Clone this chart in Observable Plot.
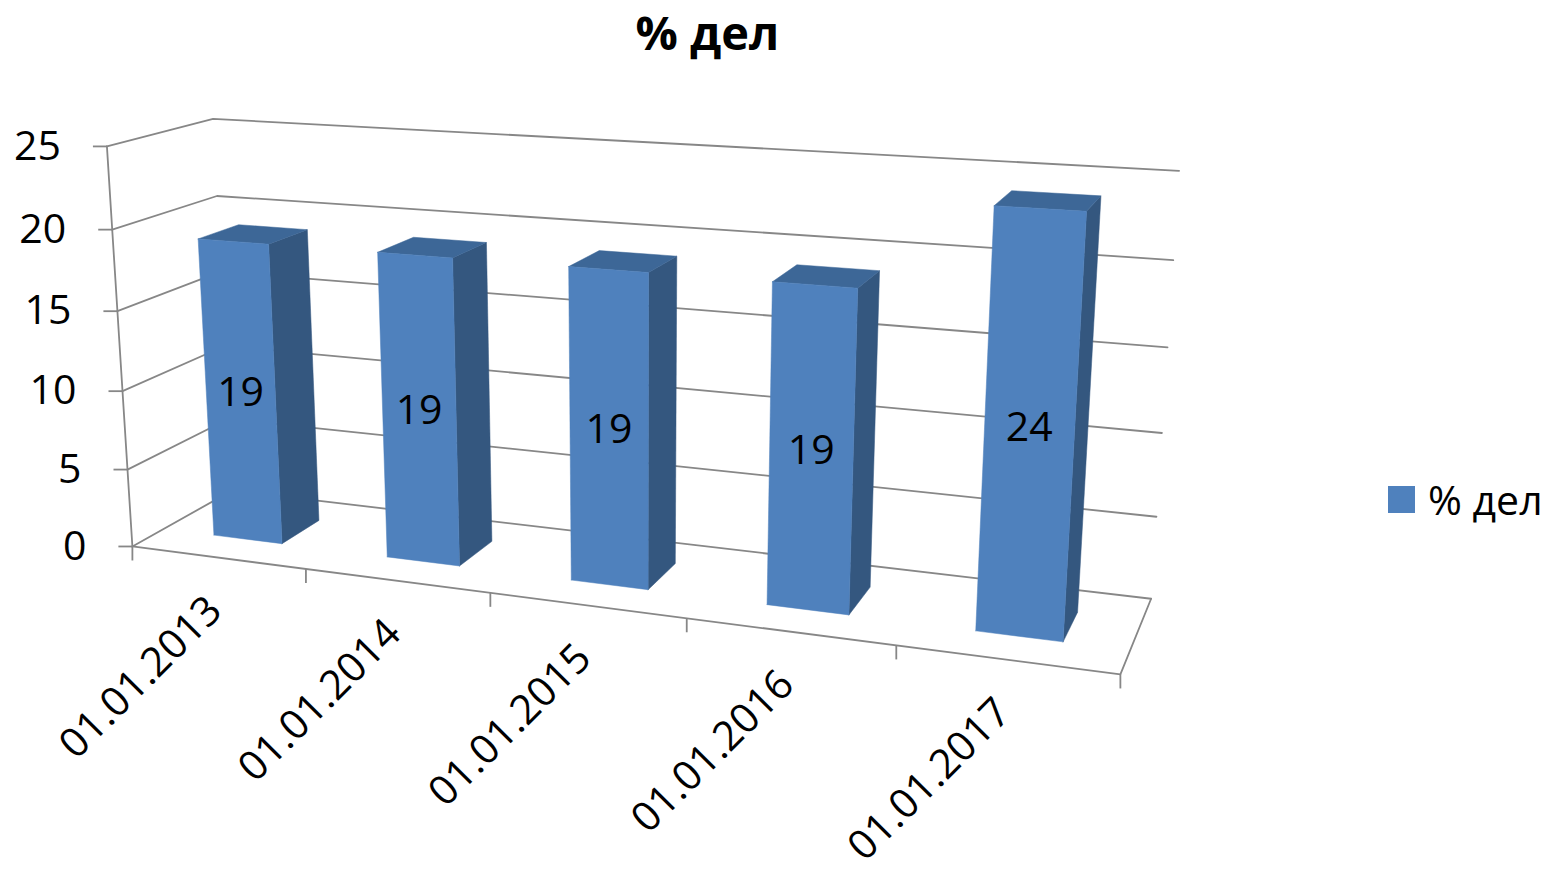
<!DOCTYPE html>
<html>
<head>
<meta charset="utf-8">
<script src="https://cdn.jsdelivr.net/npm/d3@7"></script>
<script src="https://cdn.jsdelivr.net/npm/@observablehq/plot@0.6"></script>
<style>
  html, body { margin: 0; padding: 0; background: #fff; }
  #wrap { position: relative; width: 1550px; height: 873px; overflow: hidden; font-family: "Open Sans", sans-serif; }
  #title { position: absolute; left: 0; width: 1415px; top: 0; text-align: center; font-weight: 700; font-size: 47px; line-height: 1.4; }
  #legend { position: absolute; left: 1388px; top: 471px; display: flex; align-items: center; font-size: 41px; }
  #legend .swatch { width: 27px; height: 27px; background: #4f81bd; margin-right: 13px; }
</style>
</head>
<body>
<div id="wrap">
  <div id="title"></div>
  <div id="chart"></div>
  <div id="legend"><div class="swatch"></div><span id="legendText"></span></div>
</div>
<script>
// ---- data ----
const title = "% дел";
const seriesName = "% дел";
const dates = ["01.01.2013", "01.01.2014", "01.01.2015", "01.01.2016", "01.01.2017"];
const values = [19, 19, 19, 19, 24];
const yTicks = [0, 5, 10, 15, 20, 25];

document.getElementById("title").textContent = title;
document.getElementById("legendText").textContent = seriesName;

// ---- 3D frame: u along categories, v along values, w depth (0 front, 1 back wall) ----
const uScale = Plot.scale({x: {type: "band", domain: dates, range: [0, 1], paddingInner: 0.6, paddingOuter: 0.3}});
const vScale = Plot.scale({y: {type: "linear", domain: [0, 25], range: [0, 1]}});
const depth = [0.3, 0.7];

// perspective camera (3x4 projection matrix, last entry 1)
const P = [822.5090, -30.59291, 118.0154, 131.8939,
           28.37564, -407.0785, -16.75086, 545.98,
           -0.1477667, -0.04809133, 0.07981633];
function project(u, v, w) {
  const d = P[8] * u + P[9] * v + P[10] * w + 1;
  return [(P[0] * u + P[1] * v + P[2] * w + P[3]) / d, (P[4] * u + P[5] * v + P[6] * w + P[7]) / d];
}
const pt = (u, v, w, key) => { const [x, y] = project(u, v, w); return {x, y, key}; };

// ---- frame lines: left wall + back wall gridlines, floor outline, value axis ----
const grid = [];
for (const t of yTicks) {
  const v = vScale.apply(t);
  grid.push(pt(0, v, 0, "g" + t), pt(0, v, 1, "g" + t), pt(1, v, 1, "g" + t));
}
const floorEdge = [pt(0, 0, 0, "f"), pt(1, 0, 0, "f"), pt(1, 0, 1, "f")];
const axisLine = [pt(0, 0, 0, "a"), pt(0, 1, 0, "a")];

const yTickRows = yTicks.map(t => { const [x, y] = project(0, vScale.apply(t), 0); return {x, y, t}; });
const catTickRows = d3.range(dates.length + 1).map(i => { const [x, y] = project(i / dates.length, 0, 0); return {x, y}; });
const catLabelRows = dates.map(d => { const [x, y] = project(uScale.apply(d) + uScale.bandwidth / 2, 0, 0); return {x, y, d}; });

// ---- bars: right side, top and front faces ----
const sides = [], tops = [], fronts = [], labels = [];
dates.forEach((d, i) => {
  const u0 = uScale.apply(d), u1 = u0 + uScale.bandwidth;
  const v1 = vScale.apply(values[i]);
  const [w0, w1] = depth;
  fronts.push(pt(u0, 0, w0, i), pt(u1, 0, w0, i), pt(u1, v1, w0, i), pt(u0, v1, w0, i), pt(u0, 0, w0, i));
  sides.push(pt(u1, 0, w0, i), pt(u1, 0, w1, i), pt(u1, v1, w1, i), pt(u1, v1, w0, i), pt(u1, 0, w0, i));
  tops.push(pt(u0, v1, w0, i), pt(u1, v1, w0, i), pt(u1, v1, w1, i), pt(u0, v1, w1, i), pt(u0, v1, w0, i));
  const [lx, ly] = project((u0 + u1) / 2, v1 / 2, w0);
  labels.push({x: lx, y: ly, value: values[i]});
});

const lineColor = "#878787";
const chart = Plot.plot({
  width: 1550,
  height: 873,
  margin: 0,
  x: {type: "identity", axis: null},
  y: {type: "identity", axis: null},
  style: {fontFamily: "'Open Sans', sans-serif", background: "transparent", color: "#000"},
  marks: [
    Plot.line(grid, {x: "x", y: "y", z: "key", stroke: lineColor, strokeWidth: 1.8}),
    Plot.line(floorEdge, {x: "x", y: "y", z: "key", stroke: lineColor, strokeWidth: 1.8}),
    Plot.line(axisLine, {x: "x", y: "y", z: "key", stroke: lineColor, strokeWidth: 1.8}),
    Plot.link(yTickRows, {x1: d => d.x - 14, x2: "x", y1: "y", y2: "y", stroke: lineColor, strokeWidth: 1.8}),
    Plot.link(catTickRows, {x1: "x", x2: "x", y1: "y", y2: d => d.y + 14, stroke: lineColor, strokeWidth: 1.8}),
    Plot.text(yTickRows, {x: "x", y: "y", text: d => String(d.t), dx: -46, textAnchor: "end", lineAnchor: "middle", fontSize: 41}),
    Plot.text(catLabelRows, {x: "x", y: "y", text: "d", dx: -3, dy: 46, rotate: -45, textAnchor: "end", lineAnchor: "middle", fontSize: 41}),
    Plot.line(sides, {x: "x", y: "y", z: "key", fill: "#34577f", stroke: "#34577f", strokeWidth: 0.5}),
    Plot.line(tops, {x: "x", y: "y", z: "key", fill: "#3d6797", stroke: "#3d6797", strokeWidth: 0.5}),
    Plot.line(fronts, {x: "x", y: "y", z: "key", fill: "#4f81bd", stroke: "#4f81bd", strokeWidth: 0.5}),
    Plot.text(labels, {x: "x", y: "y", text: d => String(d.value), fontSize: 41, lineAnchor: "middle"})
  ]
});
document.getElementById("chart").appendChild(chart);
</script>
</body>
</html>
